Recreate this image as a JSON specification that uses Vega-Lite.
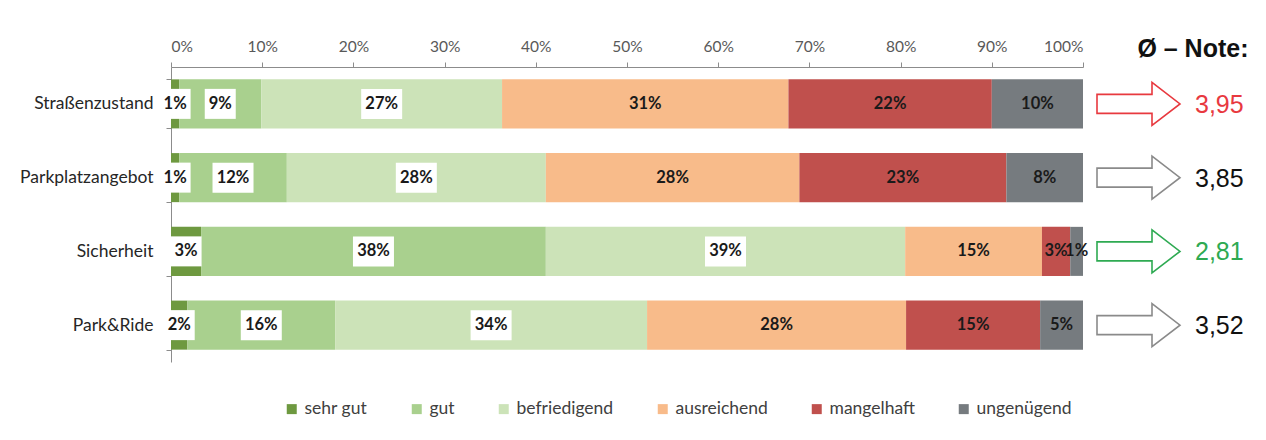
{
  "$schema": "https://vega.github.io/schema/vega-lite/v6.json",
  "width": 912,
  "height": 295,
  "autosize": {"type": "none"},
  "padding": {"left": 171, "top": 67, "right": 183, "bottom": 78},
  "background": "white",
  "config": {
    "view": {"stroke": null},
    "font": "Lato",
    "locale": {"number": {"decimal": ",", "thousands": ".", "grouping": [3], "currency": ["", " €"]}}
  },
  "datasets": {
    "noten": [
      {"kategorie": "Straßenzustand", "note": 3.95},
      {"kategorie": "Parkplatzangebot", "note": 3.85},
      {"kategorie": "Sicherheit", "note": 2.81},
      {"kategorie": "Park&Ride", "note": 3.52}
    ]
  },
  "data": {
    "values": [
      {"kategorie": "Straßenzustand", "stufe": "sehr gut", "rang": 1, "wert": 0.9, "label": "1%"},
      {"kategorie": "Straßenzustand", "stufe": "gut", "rang": 2, "wert": 9.0, "label": "9%"},
      {"kategorie": "Straßenzustand", "stufe": "befriedigend", "rang": 3, "wert": 26.4, "label": "27%"},
      {"kategorie": "Straßenzustand", "stufe": "ausreichend", "rang": 4, "wert": 31.4, "label": "31%"},
      {"kategorie": "Straßenzustand", "stufe": "mangelhaft", "rang": 5, "wert": 22.3, "label": "22%"},
      {"kategorie": "Straßenzustand", "stufe": "ungenügend", "rang": 6, "wert": 10.0, "label": "10%"},
      {"kategorie": "Parkplatzangebot", "stufe": "sehr gut", "rang": 1, "wert": 0.9, "label": "1%"},
      {"kategorie": "Parkplatzangebot", "stufe": "gut", "rang": 2, "wert": 11.8, "label": "12%"},
      {"kategorie": "Parkplatzangebot", "stufe": "befriedigend", "rang": 3, "wert": 28.4, "label": "28%"},
      {"kategorie": "Parkplatzangebot", "stufe": "ausreichend", "rang": 4, "wert": 27.8, "label": "28%"},
      {"kategorie": "Parkplatzangebot", "stufe": "mangelhaft", "rang": 5, "wert": 22.7, "label": "23%"},
      {"kategorie": "Parkplatzangebot", "stufe": "ungenügend", "rang": 6, "wert": 8.4, "label": "8%"},
      {"kategorie": "Sicherheit", "stufe": "sehr gut", "rang": 1, "wert": 3.3, "label": "3%"},
      {"kategorie": "Sicherheit", "stufe": "gut", "rang": 2, "wert": 37.8, "label": "38%"},
      {"kategorie": "Sicherheit", "stufe": "befriedigend", "rang": 3, "wert": 39.4, "label": "39%"},
      {"kategorie": "Sicherheit", "stufe": "ausreichend", "rang": 4, "wert": 15.0, "label": "15%"},
      {"kategorie": "Sicherheit", "stufe": "mangelhaft", "rang": 5, "wert": 3.1, "label": "3%"},
      {"kategorie": "Sicherheit", "stufe": "ungenügend", "rang": 6, "wert": 1.4, "label": "1%"},
      {"kategorie": "Park&Ride", "stufe": "sehr gut", "rang": 1, "wert": 1.8, "label": "2%"},
      {"kategorie": "Park&Ride", "stufe": "gut", "rang": 2, "wert": 16.2, "label": "16%"},
      {"kategorie": "Park&Ride", "stufe": "befriedigend", "rang": 3, "wert": 34.2, "label": "34%"},
      {"kategorie": "Park&Ride", "stufe": "ausreichend", "rang": 4, "wert": 28.4, "label": "28%"},
      {"kategorie": "Park&Ride", "stufe": "mangelhaft", "rang": 5, "wert": 14.7, "label": "15%"},
      {"kategorie": "Park&Ride", "stufe": "ungenügend", "rang": 6, "wert": 4.7, "label": "5%"}
    ]
  },
  "transform": [
    {"stack": "wert", "groupby": ["kategorie"], "sort": [{"field": "rang", "order": "ascending"}], "as": ["x0", "x1"]},
    {"calculate": "(datum.x0 + datum.x1) / 2", "as": "mitte"}
  ],
  "encoding": {
    "y": {
      "field": "kategorie",
      "type": "nominal",
      "sort": ["Straßenzustand", "Parkplatzangebot", "Sicherheit", "Park&Ride"],
      "scale": {"paddingInner": 0.335, "paddingOuter": 0.1675},
      "axis": {
        "title": null,
        "tickBand": "extent",
        "domainColor": "#8c8c8c",
        "tickColor": "#8c8c8c",
        "tickSize": 5,
        "labelPadding": 13,
        "labelFont": "Lato",
        "labelFontSize": 17.5,
        "labelColor": "#262626"
      }
    }
  },
  "layer": [
    {
      "mark": {"type": "bar"},
      "encoding": {
        "x": {
          "field": "x0",
          "type": "quantitative",
          "scale": {"domain": [0, 100], "nice": false},
          "axis": {
            "orient": "top",
            "values": [0, 10, 20, 30, 40, 50, 60, 70, 80, 90, 100],
            "labelExpr": "datum.value + '%'",
            "grid": false,
            "domainColor": "#8c8c8c",
            "tickColor": "#8c8c8c",
            "tickSize": 5,
            "labelPadding": 8,
            "labelFont": "Lato",
            "labelFontSize": 15.5,
            "labelColor": "#595959",
            "title": "Ø – Note:",
            "titleFont": "Liberation Sans",
            "titleFontSize": 25,
            "titleFontWeight": "bold",
            "titleColor": "#111111",
            "titleAlign": "right",
            "titleBaseline": "alphabetic",
            "titleAngle": 0,
            "titleX": 1077,
            "titleY": -11
          }
        },
        "x2": {"field": "x1"},
        "color": {
          "field": "stufe",
          "type": "nominal",
          "scale": {
            "domain": ["sehr gut", "gut", "befriedigend", "ausreichend", "mangelhaft", "ungenügend"],
            "range": ["#6E9940", "#A9D08E", "#CCE3B8", "#F8BB8A", "#C0504D", "#767B7F"]
          },
          "legend": {
            "title": null,
            "orient": "none",
            "direction": "horizontal",
            "legendX": 112,
            "legendY": 333,
            "symbolType": "square",
            "symbolSize": 100,
            "symbolStrokeWidth": 0,
            "labelFont": "Lato",
            "labelFontSize": 17.5,
            "labelColor": "#404040",
            "labelOffset": 4,
            "columnPadding": 40,
            "padding": 0
          }
        }
      }
    },
    {
      "transform": [{"filter": {"field": "stufe", "oneOf": ["sehr gut", "gut", "befriedigend"]}}],
      "mark": {"type": "point", "filled": true, "color": "white", "opacity": 1, "size": 4, "strokeWidth": 0},
      "encoding": {
        "x": {"field": "mitte", "type": "quantitative"},
        "shape": {
          "condition": {"test": "length(datum.label) < 3", "value": "M-15.5,-15H15.5V15H-15.5Z"},
          "value": "M-20.5,-15H20.5V15H-20.5Z"
        }
      }
    },
    {
      "mark": {"type": "text", "font": "Lato", "fontSize": 16.5, "fontWeight": "bold", "color": "#1a1a1a", "baseline": "middle", "align": "center"},
      "encoding": {
        "x": {"field": "mitte", "type": "quantitative"},
        "text": {"field": "label"}
      }
    },
    {
      "data": {"name": "noten"},
      "transform": [],
      "mark": {"type": "point", "filled": false, "size": 4, "strokeWidth": 1.6, "xOffset": 55.5, "opacity": 1,
        "shape": "M-41.5,-9.5H13.5V-21.5L41.5,0L13.5,21.5V9.5H-41.5Z"},
      "encoding": {
        "x": {"datum": 100, "type": "quantitative"},
        "color": {
          "condition": [
            {"test": "datum.kategorie === 'Straßenzustand'", "value": "#E8393F"},
            {"test": "datum.kategorie === 'Sicherheit'", "value": "#2EAA52"}
          ],
          "value": "#8a8a8a"
        }
      }
    },
    {
      "data": {"name": "noten"},
      "transform": [],
      "mark": {"type": "text", "font": "Liberation Sans", "fontSize": 25, "align": "left", "baseline": "middle", "dx": 112, "dy": 1},
      "encoding": {
        "x": {"datum": 100, "type": "quantitative"},
        "text": {"field": "note", "type": "quantitative", "format": ".2f"},
        "color": {
          "condition": [
            {"test": "datum.kategorie === 'Straßenzustand'", "value": "#E8393F"},
            {"test": "datum.kategorie === 'Sicherheit'", "value": "#2EAA52"}
          ],
          "value": "#111111"
        }
      }
    }
  ]
}
